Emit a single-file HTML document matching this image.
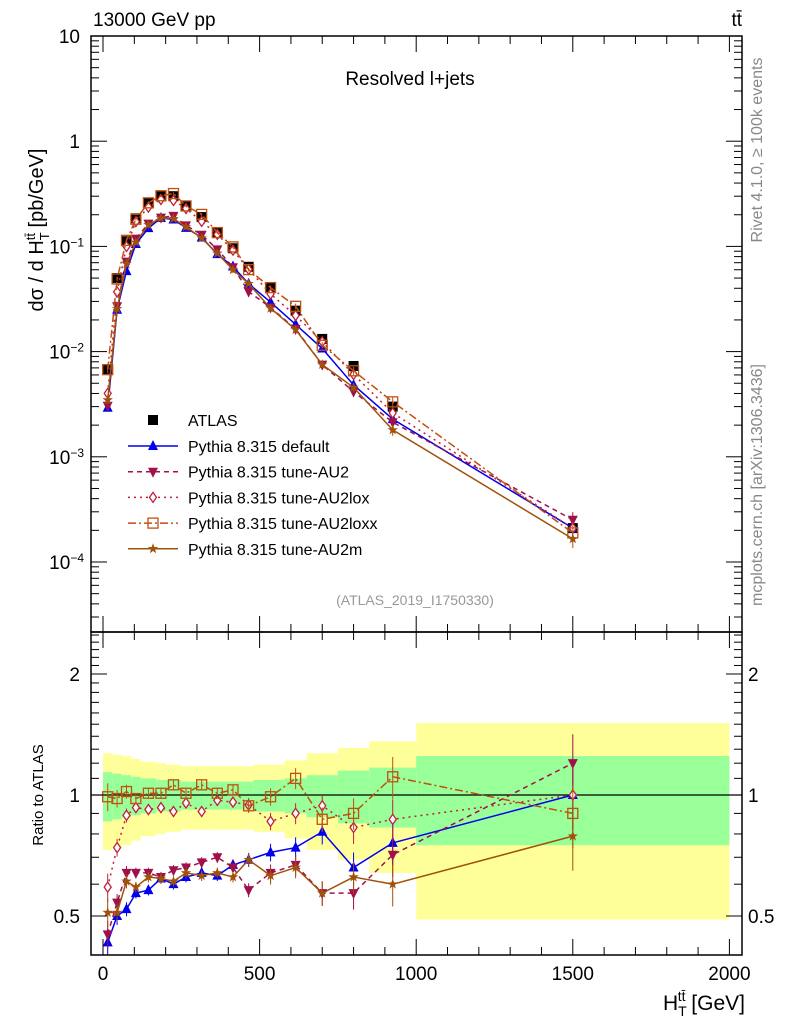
<!DOCTYPE html>
<html><head><meta charset="utf-8"><style>
body{margin:0;background:#fff;}
svg text{font-family:"Liberation Sans",sans-serif;}
</style></head><body>
<svg id="c" width="786" height="1024" xmlns="http://www.w3.org/2000/svg"></svg>
<script>
const centers=[15,45,75,105,145,185,225,265,315,365,415,465,535,615,700,800,925,1500];
const edges=[0,30,60,90,120,170,200,250,280,350,380,450,480,580,650,750,850,1000,2000];
const atlas=[0.0068,0.050,0.112,0.185,0.257,0.30,0.30,0.24,0.19,0.134,0.096,0.064,0.041,0.0245,0.0132,0.0073,0.0030,0.00021];
const bandGreen=[.14,.13,.12,.11,.10,.09,.09,.08,.08,.08,.08,.08,.09,.10,.12,.15,.17,.25];
const bandYellow=[.27,.26,.25,.23,.21,.20,.19,.18,.18,.18,.18,.18,.19,.22,.27,.31,.36,.51];
const rDefault=[0.43,0.50,0.52,0.57,0.58,0.62,0.60,0.625,0.64,0.63,0.67,0.69,0.72,0.74,0.81,0.66,0.76,1.0];
const rAU2=[0.45,0.54,0.64,0.64,0.64,0.625,0.65,0.66,0.68,0.70,0.66,0.58,0.64,0.67,0.57,0.57,0.71,1.2];
const rAU2lox=[0.59,0.74,0.89,0.93,0.92,0.93,0.91,0.955,0.91,0.97,0.96,0.945,0.86,0.90,0.94,0.83,0.87,1.0];
const rAU2loxx=[0.99,0.98,1.02,0.98,1.01,1.01,1.06,1.01,1.06,1.01,1.03,0.94,0.99,1.10,0.87,0.90,1.11,0.90];
const rAU2m=[0.51,0.51,0.61,0.59,0.625,0.62,0.61,0.64,0.63,0.64,0.625,0.69,0.63,0.66,0.57,0.625,0.60,0.79];
const relErr=[.08,.05,.04,.03,.03,.03,.03,.03,.03,.03,.03,.04,.05,.06,.07,.09,.12,.18];
const xTicks=[0,500,1000,1500,2000];

const NS="http://www.w3.org/2000/svg";
const svg=document.getElementById('c');
function el(t,a,p){const e=document.createElementNS(NS,t);for(const k in a)e.setAttribute(k,a[k]);(p||svg).appendChild(e);return e;}
const L=91,R=742,T=36,M=632,B=955;
const X=v=>103+v*0.3132;
const YT=v=>T+(1-Math.log10(v))*105.2;
const YR=v=>795-Math.log10(v)*402;
const clipT=el('clipPath',{id:'ct'});el('rect',{x:L,y:T,width:R-L,height:M-T},clipT);
const clipR=el('clipPath',{id:'cr'});el('rect',{x:L,y:M,width:R-L,height:B-M},clipR);

const gB=el('g',{'clip-path':'url(#cr)'});

for(let i=0;i<centers.length;i++){
  const x0=X(edges[i]),x1=X(edges[i+1]);
  const ry=el('rect',{x:x0,y:YR(1+bandYellow[i]),width:x1-x0,height:YR(1-bandYellow[i])-YR(1+bandYellow[i]),fill:'#ffff99'},gB);
  
  const rg=el('rect',{x:x0,y:YR(1+bandGreen[i]),width:x1-x0,height:YR(1-bandGreen[i])-YR(1+bandGreen[i]),fill:'#99ff99'},gB);
  
}
el('line',{x1:L,x2:R,y1:YR(1),y2:YR(1),stroke:'#000','stroke-width':1.2});

function marker(g,type,x,y,c){
  let m;
  if(type==='sq') m=el('rect',{x:x-5,y:y-5,width:10,height:10,fill:'#000'},g);
  else if(type==='up') m=el('polygon',{points:`${x},${y-6} ${x-5},${y+4} ${x+5},${y+4}`,fill:c},g);
  else if(type==='dn') m=el('polygon',{points:`${x},${y+6} ${x-5},${y-4} ${x+5},${y-4}`,fill:c},g);
  else if(type==='dia') m=el('polygon',{points:`${x},${y-5} ${x-3.5},${y} ${x},${y+5} ${x+3.5},${y}`,fill:'#fff',stroke:c,'stroke-width':1.3},g);
  else if(type==='osq') m=el('rect',{x:x-5,y:y-5,width:10,height:10,fill:'none',stroke:c,'stroke-width':1.3},g);
  else if(type==='star'){let p=[];for(let k=0;k<10;k++){const r=k%2?2.2:5.5,a=-Math.PI/2+k*Math.PI/5;p.push((x+r*Math.cos(a)).toFixed(1)+','+(y+r*Math.sin(a)).toFixed(1));}m=el('polygon',{points:p.join(' '),fill:c},g);}
  
}
const series=[
 {name:'default',r:rDefault,c:'#0000ee',m:'up',d:''},
 {name:'tune-AU2',r:rAU2,c:'#a0104a',m:'dn',d:'5,4'},
 {name:'tune-AU2lox',r:rAU2lox,c:'#c0203a',m:'dia',d:'2,4'},
 {name:'tune-AU2loxx',r:rAU2loxx,c:'#c05010',m:'osq',d:'8,3,2,3'},
 {name:'tune-AU2m',r:rAU2m,c:'#a0520a',m:'star',d:''}];

const gT=el('g',{'clip-path':'url(#ct)'});

const gA=el('g',{},gT);
centers.forEach((c,i)=>{const y=YT(atlas[i]);el('line',{x1:X(c),x2:X(c),y1:YT(atlas[i]*(1+relErr[i]*0.5)),y2:YT(atlas[i]*(1-relErr[i]*0.5)),stroke:'#000'},gA);marker(gA,'sq',X(c),y);});
series.forEach(s=>{
  const g=el('g',{},gT);
  const pts=centers.map((c,i)=>X(c)+','+YT(atlas[i]*s.r[i])).join(' ');
  el('polyline',{points:pts,fill:'none',stroke:s.c,'stroke-width':1.5,'stroke-dasharray':s.d},g);
  centers.forEach((c,i)=>{const v=atlas[i]*s.r[i];el('line',{x1:X(c),x2:X(c),y1:YT(v*(1+relErr[i])),y2:YT(v*(1-relErr[i])),stroke:s.c},g);marker(g,s.m,X(c),YT(v),s.c);});
});
const gR=el('g',{'clip-path':'url(#cr)'});

series.forEach(s=>{
  const g=el('g',{},gR);
  const pts=centers.map((c,i)=>X(c)+','+YR(s.r[i])).join(' ');
  el('polyline',{points:pts,fill:'none',stroke:s.c,'stroke-width':1.5,'stroke-dasharray':s.d},g);
  centers.forEach((c,i)=>{const v=s.r[i];el('line',{x1:X(c),x2:X(c),y1:YR(v*(1+relErr[i])),y2:YR(v*(1-relErr[i])),stroke:s.c},g);marker(g,s.m,X(c),YR(v),s.c);});
});

el('rect',{x:L,y:T,width:R-L,height:M-T,fill:'none',stroke:'#000','stroke-width':1.5});
el('rect',{x:L,y:M,width:R-L,height:B-M,fill:'none',stroke:'#000','stroke-width':1.5});
function txt(s,x,y,o){const t=el('text',Object.assign({x:x,y:y,'font-size':17},o||{}));t.innerHTML=s;return t;}
const decLabels=['10','1','10<tspan dy="-7" font-size="12">−1</tspan>','10<tspan dy="-7" font-size="12">−2</tspan>','10<tspan dy="-7" font-size="12">−3</tspan>','10<tspan dy="-7" font-size="12">−4</tspan>'];
for(let e=1;e>=-5;e--){for(let k=1;k<10;k++){const v=k*Math.pow(10,e);const y=YT(v);if(y<T-0.5||y>M)continue;const len=k===1?16:8;
 el('line',{x1:L,x2:L+len,y1:y,y2:y,stroke:'#000'});el('line',{x1:R-len,x2:R,y1:y,y2:y,stroke:'#000'});}}
decLabels.forEach((s,i)=>{const t=txt(s,i<2?80:84,YT(Math.pow(10,1-i))+7,{'text-anchor':'end','font-size':19});});
const rt=[];for(let v=0.4;v<=2.55;v+=0.1)rt.push(Math.round(v*10)/10);
rt.forEach(v=>{const y=YR(v);if(y<M||y>B)return;const len=(v===1||v===2||v===0.5)?16:8;el('line',{x1:L,x2:L+len,y1:y,y2:y,stroke:'#000'});el('line',{x1:R-len,x2:R,y1:y,y2:y,stroke:'#000'});});
[['2',2],['1',1],['0.5',0.5]].forEach(a=>{txt(a[0],80,YR(a[1])+7,{'text-anchor':'end','font-size':19});txt(a[0],748,YR(a[1])+7,{'font-size':19});});
for(let v=0;v<=2000;v+=100){const x=X(v);const len=v%500===0?16:8;
 el('line',{x1:x,x2:x,y1:B-len,y2:B,stroke:'#000'});el('line',{x1:x,x2:x,y1:M-len,y2:M,stroke:'#000'});el('line',{x1:x,x2:x,y1:T,y2:T+len,stroke:'#000'});el('line',{x1:x,x2:x,y1:M,y2:M+len,stroke:'#000'});}
xTicks.forEach(v=>{const t=txt(String(v),X(v),980,{'text-anchor':'middle','font-size':19});});

let t;
t=txt('13000 GeV pp',93,26,{'font-size':19});
t=txt('tt̄',742,26,{'font-size':19,'text-anchor':'end'});
t=txt('Resolved l+jets',410,85,{'text-anchor':'middle','font-size':19});
t=txt('(ATLAS_2019_I1750330)',415,605,{'text-anchor':'middle','font-size':14,fill:'#999'});
t=txt('dσ / d H<tspan dy="6" font-size="13">T</tspan><tspan dy="-14" dx="-8" font-size="13">tt̄</tspan><tspan dy="8"> [pb/GeV]</tspan>',0,0,{'font-size':20,transform:'translate(43,230) rotate(-90)'});
t.setAttribute('text-anchor','middle');
t=txt('Ratio to ATLAS',0,0,{'font-size':15,transform:'translate(43,795) rotate(-90)','text-anchor':'middle'});
t=txt('H<tspan dy="6" font-size="14">T</tspan><tspan dy="-15" dx="-9" font-size="14">tt̄</tspan><tspan dy="9"> [GeV]</tspan>',745,1010,{'font-size':21,'text-anchor':'end'});
t=txt('Rivet 4.1.0, ≥ 100k events',0,0,{'font-size':16,fill:'#888',transform:'translate(762,150) rotate(-90)','text-anchor':'middle'});
t=txt('mcplots.cern.ch [arXiv:1306.3436]',0,0,{'font-size':16,fill:'#888',transform:'translate(762,485) rotate(-90)','text-anchor':'middle'});

const gL=el('g',{});
const lg=el('g',{},gL);
marker(lg,'sq',153,420);txt('ATLAS',188,426,{'font-size':16},lg);
const labels=['Pythia 8.315 default','Pythia 8.315 tune-AU2','Pythia 8.315 tune-AU2lox','Pythia 8.315 tune-AU2loxx','Pythia 8.315 tune-AU2m'];
series.forEach((s,i)=>{const y=446+i*25.7;const g=el('g',{},gL);
 el('line',{x1:128,x2:178,y1:y,y2:y,stroke:s.c,'stroke-width':1.5,'stroke-dasharray':s.d},g);marker(g,s.m,153,y,s.c);
 const tt=el('text',{x:188,y:y+6,'font-size':16},g);tt.textContent=labels[i];});
</script>
</body></html>
